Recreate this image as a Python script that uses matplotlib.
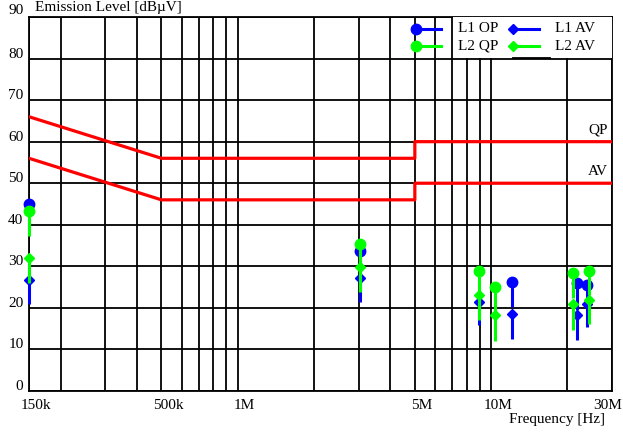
import matplotlib
matplotlib.use("Agg")
import matplotlib.pyplot as plt
import matplotlib.transforms as mtransforms
from matplotlib.ticker import LogLocator, NullFormatter, FixedLocator
from matplotlib.patches import Rectangle
from matplotlib.lines import Line2D

plt.rcParams['font.family'] = ['Liberation Serif', 'DejaVu Serif']
plt.rcParams['font.size'] = 11

# limit lines, frequency in MHz, level in dBuV
qp_limit_f = [0.15, 0.5, 5, 5, 30]
qp_limit_db = [66, 56, 56, 60, 60]
av_limit_f = [0.15, 0.5, 5, 5, 30]
av_limit_db = [56, 46, 46, 50, 50]

# measured peaks: frequency (MHz), level (dBuV) and lower end of the stem
l1_qp_f = [0.15, 3.05, 12.1, 21.8, 24.0]
l1_qp_db = [45.0, 33.8, 26.2, 26.0, 25.6]
l1_qp_low = [39.0, 28.0, 20.2, 19.5, 19.8]

l2_qp_f = [0.15, 3.05, 8.95, 10.4, 21.0, 24.4]
l2_qp_db = [43.2, 35.4, 28.9, 25.0, 28.4, 28.9]
l2_qp_low = [37.4, 29.6, 23.0, 19.0, 22.5, 23.0]

l1_av_f = [0.15, 3.05, 8.95, 12.1, 21.8, 24.0]
l1_av_db = [26.6, 27.3, 21.4, 18.6, 18.2, 21.0]
l1_av_low = [20.9, 21.4, 15.8, 12.6, 12.2, 15.3]

l2_av_f = [0.15, 3.05, 8.95, 10.4, 21.0, 24.4]
l2_av_db = [31.9, 29.8, 23.0, 18.2, 20.9, 22.0]
l2_av_low = [26.0, 23.8, 17.0, 12.1, 14.6, 16.2]

x_ticks = [0.15, 0.5, 1, 5, 10, 30]
x_labels = ['150k', '500k', '1M', '5M', '10M', '30M']
y_ticks = list(range(0, 100, 10))

blue = '#0000ff'
green = '#00ff00'
red = '#ff0000'

fig = plt.figure(figsize=(6.23, 4.32), dpi=100)
ax = fig.add_axes([29 / 623, 1 - 391 / 432, 583 / 623, 374 / 432])

ax.set_xscale('log')
ax.set_xlim(0.15, 30)
ax.set_ylim(0, 90)

ax.xaxis.set_major_locator(FixedLocator(x_ticks))
ax.set_xticklabels(x_labels)
ax.xaxis.set_minor_locator(LogLocator(base=10, subs=range(2, 10)))
ax.xaxis.set_minor_formatter(NullFormatter())
ax.set_yticks(y_ticks)
ax.tick_params(which='both', length=0)
ax.tick_params(axis='x', pad=6)
ax.tick_params(axis='y', pad=4)
ax.grid(which='both', color='black', lw=1.3)
for sp in ax.spines.values():
    sp.set_color('black')
    sp.set_linewidth(1.3)

# shift tick labels a little to the right, last one sits flush with the border
shift = mtransforms.ScaledTranslation(6.5 / 100, 0, fig.dpi_scale_trans)
for lab in ax.get_xticklabels():
    lab.set_transform(lab.get_transform() + shift)
last = ax.get_xticklabels()[-1]
last.set_ha('right')
last.set_transform(last.get_transform() + mtransforms.ScaledTranslation(4 / 100, 0, fig.dpi_scale_trans))
for lab in ax.get_yticklabels()[:-1]:
    lab.set_va('bottom')
    lab.set_transform(lab.get_transform() + mtransforms.ScaledTranslation(0, -2 / 100, fig.dpi_scale_trans))
top_lab = ax.get_yticklabels()[-1]
top_lab.set_va('bottom')

# limits
ax.plot(qp_limit_f, qp_limit_db, color=red, lw=2.3, zorder=3)
ax.plot(av_limit_f, av_limit_db, color=red, lw=2.3, zorder=3)
ax.text(0.993, 61.3, 'QP', transform=ax.get_yaxis_transform(), ha='right', va='bottom')
ax.text(0.993, 51.3, 'AV', transform=ax.get_yaxis_transform(), ha='right', va='bottom')

# measurements
series = [
    (l1_qp_f, l1_qp_db, l1_qp_low, blue, 'o', 7.5),
    (l2_qp_f, l2_qp_db, l2_qp_low, green, 'o', 7.5),
    (l1_av_f, l1_av_db, l1_av_low, blue, 'D', 5),
    (l2_av_f, l2_av_db, l2_av_low, green, 'D', 5),
]
z = 4
for f, db, low, c, m, ms in series:
    ax.vlines(f, low, db, color=c, lw=2.2, zorder=z, clip_on=False)
    ax.plot(f, db, ls='none', marker=m, ms=ms, color=c, zorder=z, clip_on=False)
    z += 1

# legend block
ax.add_patch(Rectangle((0.727, 0.8917), 0.273, 0.1083, transform=ax.transAxes,
                       facecolor='white', edgecolor='none', zorder=10))
ax.add_line(Line2D([0.830, 0.894], [0.8917, 0.8917], transform=ax.transAxes,
                   color='black', lw=1.3, zorder=11))
rows = [0.968, 0.922]
for y, c, name_qp, name_av in zip(rows, [blue, green], ['L1 OP', 'L2 QP'], ['L1 AV', 'L2 AV']):
    ax.add_line(Line2D([0.664, 0.707], [y, y], transform=ax.transAxes, color=c, lw=2.2, zorder=12))
    ax.add_line(Line2D([0.664], [y], transform=ax.transAxes, color=c, marker='o', ms=7.5, zorder=12))
    ax.add_line(Line2D([0.830, 0.874], [y, y], transform=ax.transAxes, color=c, lw=2.2, zorder=12))
    ax.add_line(Line2D([0.830], [y], transform=ax.transAxes, color=c, marker='D', ms=5, zorder=12))
    ax.text(0.736, y, name_qp, transform=ax.transAxes, va='center', ha='left', zorder=12)
    ax.text(0.903, y, name_av, transform=ax.transAxes, va='center', ha='left', zorder=12)

fig.text(35 / 623, 1 - 14 / 432, 'Emission Level [dBµV]', ha='left', va='bottom')
fig.text(605 / 623, 1 - 420 / 432, 'Frequency [Hz]', ha='right', va='center')

fig.savefig('out.png', dpi=100)
